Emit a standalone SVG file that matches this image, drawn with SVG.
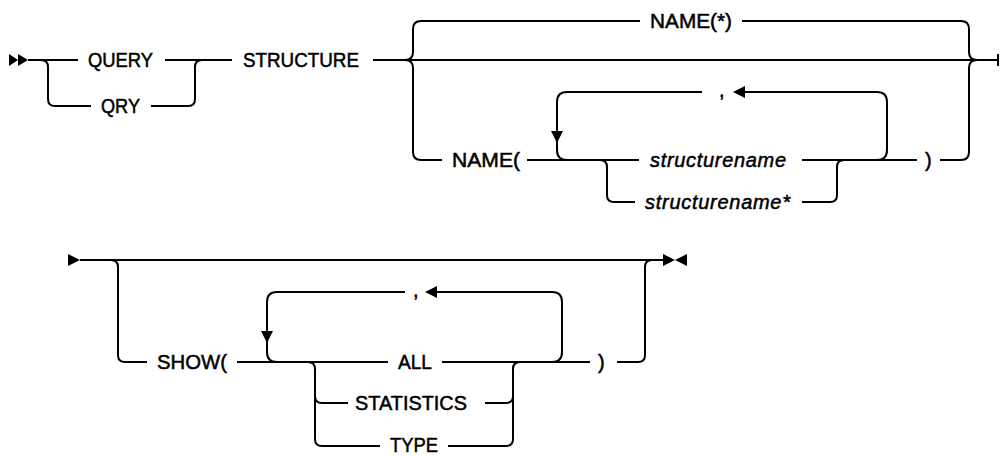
<svg xmlns="http://www.w3.org/2000/svg" width="1000" height="456" viewBox="0 0 1000 456">
<style>
.ln{fill:none;stroke:#000;stroke-width:2;stroke-linejoin:round}
.ah{fill:#000;stroke:none}
.t{font-family:"Liberation Sans",Arial,sans-serif;font-size:20px;fill:#000;stroke:#000;stroke-width:0.5}
.i{font-style:italic}
</style>
<rect width="1000" height="456" fill="#fff"/>
<g id="connectors">
  <!-- row 1 -->
  <polygon class="ah" points="9,54 18,60 9,66"/>
  <polygon class="ah" points="18,54 28,60 18,66"/>
  <path class="ln" d="M28 60 H78"/>
  <path class="ln" d="M41 60 Q48 60 48 67 V99 Q48 106 55 106 H91"/>
  <path class="ln" d="M151 106 H188 Q195 106 195 99 V67 Q195 60 202 60"/>
  <path class="ln" d="M165 60 H232"/>
  <path class="ln" d="M373 60 H998"/>
  <path class="ln" d="M998 54 V66"/>
  <path class="ln" d="M405 60 Q413 60 413 52 V29 Q413 21 421 21 H640"/>
  <path class="ln" d="M742 21 H961 Q969 21 969 29 V52 Q969 60 977 60"/>
  <path class="ln" d="M405 60 Q413 60 413 68 V152 Q413 160 421 160 H442"/>
  <path class="ln" d="M527 160 H639"/>
  <path class="ln" d="M802 160 H917"/>
  <path class="ln" d="M940 160 H961 Q969 160 969 152 V68 Q969 60 977 60"/>
  <path class="ln" d="M702 92 H567 Q557 92 557 102 V150 Q557 160 567 160"/>
  <polygon class="ah" points="551,131 563,131 557,143"/>
  <path class="ln" d="M745 92 H877 Q887 92 887 102 V150 Q887 160 877 160"/>
  <polygon class="ah" points="745,86 745,98 733,92"/>
  <path class="ln" d="M600 160 Q607 160 607 167 V195 Q607 202 614 202 H635"/>
  <path class="ln" d="M802 202 H830 Q837 202 837 195 V167 Q837 160 844 160"/>
  <!-- row 2 -->
  <polygon class="ah" points="68,254 80,260 68,266"/>
  <path class="ln" d="M80 260 H663"/>
  <polygon class="ah" points="663,254 675,260 663,266"/>
  <polygon class="ah" points="687,254 675,260 687,266"/>
  <path class="ln" d="M111 260 Q118 260 118 267 V355 Q118 362 125 362 H147"/>
  <path class="ln" d="M237 362 H388"/>
  <path class="ln" d="M442 362 H590"/>
  <path class="ln" d="M617 362 H638 Q645 362 645 355 V267 Q645 260 652 260"/>
  <path class="ln" d="M405 292 H277 Q267 292 267 302 V352 Q267 362 277 362"/>
  <polygon class="ah" points="261,331 273,331 267,343"/>
  <path class="ln" d="M437 292 H552 Q562 292 562 302 V352 Q562 362 552 362"/>
  <polygon class="ah" points="437,286 437,298 425,292"/>
  <path class="ln" d="M308 362 Q315 362 315 369 V439 Q315 446 322 446 H380"/>
  <path class="ln" d="M315 396 Q315 403 322 403 H348"/>
  <path class="ln" d="M485 403 H506 Q513 403 513 396 V369 Q513 362 520 362"/>
  <path class="ln" d="M448 446 H506 Q513 446 513 439 V396"/>
</g>
<g id="n-query"><text class="t" x="88" y="67" textLength="65" lengthAdjust="spacingAndGlyphs">QUERY</text></g>
<g id="n-qry"><text class="t" x="101" y="113" textLength="39" lengthAdjust="spacingAndGlyphs">QRY</text></g>
<g id="n-structure"><text class="t" x="243" y="67" textLength="116" lengthAdjust="spacingAndGlyphs">STRUCTURE</text></g>
<g id="n-name-star"><text class="t" x="650" y="28" textLength="82" lengthAdjust="spacingAndGlyphs">NAME(*)</text></g>
<g id="n-name"><text class="t" x="452" y="167" textLength="68" lengthAdjust="spacingAndGlyphs">NAME(</text></g>
<g id="n-comma1"><text class="t" x="719" y="97">,</text></g>
<g id="n-structurename"><text class="t i" x="650" y="167" textLength="136">structurename</text></g>
<g id="n-structurename-star"><text class="t i" x="645" y="209" textLength="145">structurename*</text></g>
<g id="n-close1"><text class="t" x="925" y="167">)</text></g>
<g id="n-show"><text class="t" x="157" y="369" textLength="70" lengthAdjust="spacingAndGlyphs">SHOW(</text></g>
<g id="n-comma2"><text class="t" x="413" y="297">,</text></g>
<g id="n-all"><text class="t" x="398" y="369" textLength="34" lengthAdjust="spacingAndGlyphs">ALL</text></g>
<g id="n-statistics"><text class="t" x="355" y="410" textLength="112" lengthAdjust="spacingAndGlyphs">STATISTICS</text></g>
<g id="n-type"><text class="t" x="390" y="452" textLength="48" lengthAdjust="spacingAndGlyphs">TYPE</text></g>
<g id="n-close2"><text class="t" x="598" y="369">)</text></g>
</svg>
